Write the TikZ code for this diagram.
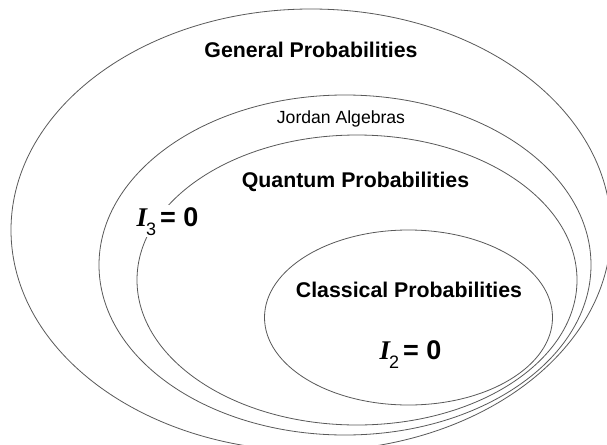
\documentclass[tikz,border=0pt]{standalone}
\usepackage{fontspec}
\setmainfont{Liberation Sans}
\newfontfamily\timesfont{Liberation Serif}
\newcommand{\interf}[1]{{\timesfont\bfseries\itshape I}\hspace{-1pt}\raisebox{-9pt}{\fontsize{18}{18}\selectfont #1}\hspace{4pt}\textbf{= 0}}
\tikzset{
  oval/.style={draw=black!65, line width=0.8pt},
  head/.style={anchor=base, font=\fontsize{21.3}{24}\selectfont\bfseries},
  law/.style={anchor=base, inner sep=2pt, font=\fontsize{27}{30}\selectfont}
}
\begin{document}
\begin{tikzpicture}[x=1pt, y=-1pt, line join=round, line cap=round]
\useasboundingbox[fill=white] (0,0) rectangle (607,444);
% nested sets
\draw[oval] (311,230) ellipse (300 and 221);
\draw[oval] (345,265) ellipse (246 and 170);
\draw[oval] (357,280) ellipse (220 and 145);
\draw[oval] (408.5,317.5) ellipse (144 and 87.5);
% labels
\node[head] (general) at (311,57) {General Probabilities};
\node[anchor=base, font=\fontsize{17.6}{20}\selectfont] (jordan) at (341,123) {Jordan Algebras};
\node[head] (quantum) at (355.5,187) {Quantum Probabilities};
\node[head] (classical) at (409,297) {Classical Probabilities};
\node[law, fill=white] (ithree) at (167.5,226) {\interf{3}};
\node[law] (itwo) at (410.5,359) {\interf{2}};
\end{tikzpicture}
\end{document}
